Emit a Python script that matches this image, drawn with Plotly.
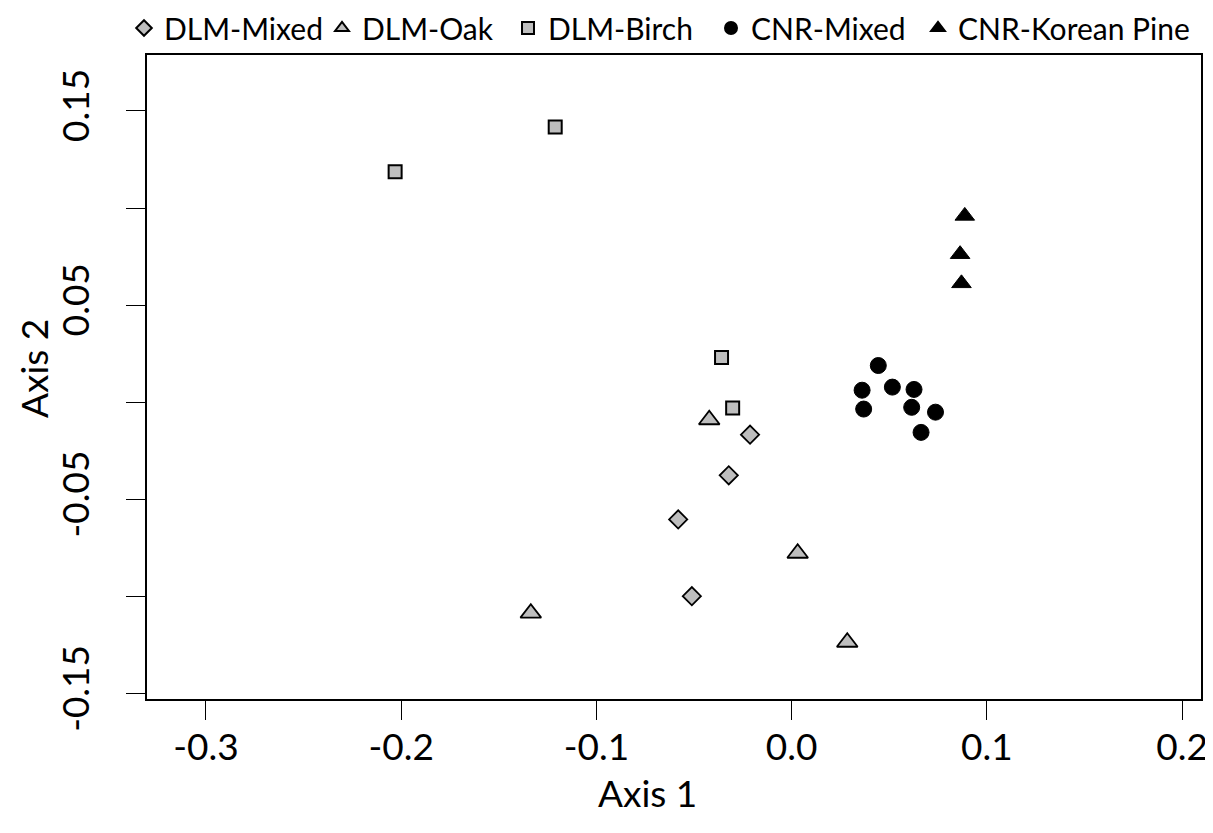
import plotly.graph_objects as go

# ---- data ----
dlm_mixed_x = [-0.0213, -0.0322, -0.0581, -0.0511]
dlm_mixed_y = [-0.0166, -0.0375, -0.0602, -0.0997]

dlm_oak_x = [-0.0422, 0.0031, -0.1336, 0.0285]
dlm_oak_y = [-0.0089, -0.0776, -0.1084, -0.1234]

dlm_birch_x = [-0.2031, -0.1211, -0.0359, -0.0302]
dlm_birch_y = [0.1187, 0.1418, 0.0231, -0.0029]

cnr_mixed_x = [0.0444, 0.0361, 0.0516, 0.0627, 0.0369, 0.0615, 0.0737, 0.0663]
cnr_mixed_y = [0.0190, 0.0063, 0.0079, 0.0067, -0.0034, -0.0025, -0.0050, -0.0154]

cnr_pine_x = [0.0887, 0.0863, 0.0870]
cnr_pine_y = [0.0960, 0.0763, 0.0613]

x_ticks = [-0.3, -0.2, -0.1, 0.0, 0.1, 0.2]
x_ticktext = ["-0.3", "-0.2", "-0.1", "0.0", "0.1", "0.2"]
y_ticks = [-0.15, -0.10, -0.05, 0.0, 0.05, 0.10, 0.15]
y_ticktext = ["-0.15", "", "-0.05", "", "0.05", "", "0.15"]

FONT = "Lato, 'Open Sans', sans-serif"
GRAY = "#BEBEBE"

series = [
    ("DLM-Mixed", dlm_mixed_x, dlm_mixed_y, "diamond", 14, GRAY, 1.8, "legend"),
    ("DLM-Oak", dlm_oak_x, dlm_oak_y, "triangle-up", 18, GRAY, 1.8, "legend2"),
    ("DLM-Birch", dlm_birch_x, dlm_birch_y, "square", 13, GRAY, 2.0, "legend3"),
    ("CNR-Mixed", cnr_mixed_x, cnr_mixed_y, "circle", 16, "black", 1, "legend4"),
    ("CNR-Korean Pine", cnr_pine_x, cnr_pine_y, "triangle-up", 17, "black", 1, "legend5"),
]

fig = go.Figure()
for name, xs, ys, sym, size, fill, lw, lg in series:
    fig.add_trace(go.Scatter(
        x=xs, y=ys, mode="markers", name=name, legend=lg,
        marker=dict(symbol=sym, size=size, color=fill,
                    line=dict(color="black", width=lw)),
    ))

W, H = 1213, 833
L, R, T, B = 139, 20, 47, 142
pw = W - L - R
ph = H - T - B
XR = [-0.3302, 0.2097]
YR = [-0.1526, 0.1788]

def px_x(px):
    return (px - L) / pw

def px_y(py):
    return 1 - (py - T) / ph

text_starts = [156, 354, 540, 743, 950]
leg_common = dict(orientation="h", yanchor="top", y=px_y(-6), xanchor="left",
                  font=dict(family=FONT, size=30, color="black"),
                  bgcolor="rgba(0,0,0,0)", borderwidth=0, itemsizing="constant")
legends = {}
for i, ts in enumerate(text_starts):
    key = "legend" if i == 0 else f"legend{i+1}"
    legends[key] = dict(leg_common, x=px_x(ts - 40))

title_font = dict(family=FONT, size=37, color="black")

fig.update_layout(
    width=W, height=H,
    margin=dict(l=L, r=R, t=T, b=B, autoexpand=False),
    paper_bgcolor="white", plot_bgcolor="white",
    font=dict(family=FONT, color="black"),
    showlegend=True,
    **legends,
    xaxis=dict(
        range=XR, tickvals=x_ticks, ticktext=x_ticktext,
        ticks="outside", ticklen=19, tickwidth=1.3, tickcolor="black",
        showline=True, mirror=True, linecolor="black", linewidth=2,
        showgrid=False, zeroline=False, ticklabelstandoff=-4,
        tickfont=dict(family=FONT, size=37, color="black"),
    ),
    yaxis=dict(
        range=YR, tickvals=y_ticks, ticktext=y_ticktext,
        ticks="outside", ticklen=19, tickwidth=1.3, tickcolor="black",
        tickangle=-90, ticklabelstandoff=22,
        showline=True, mirror=True, linecolor="black", linewidth=2,
        showgrid=False, zeroline=False,
        tickfont=dict(family=FONT, size=37, color="black"),
    ),
    annotations=[
        dict(text="Axis 1", xref="x", x=-0.0738, yref="paper",
             y=px_y(784), xanchor="center", yanchor="middle",
             showarrow=False, font=title_font),
        dict(text="Axis 2", xref="paper", x=px_x(25), yref="y", y=0.0172,
             xanchor="center", yanchor="middle", textangle=-90,
             showarrow=False, font=title_font),
    ],
)

fig.write_html("out.html")
